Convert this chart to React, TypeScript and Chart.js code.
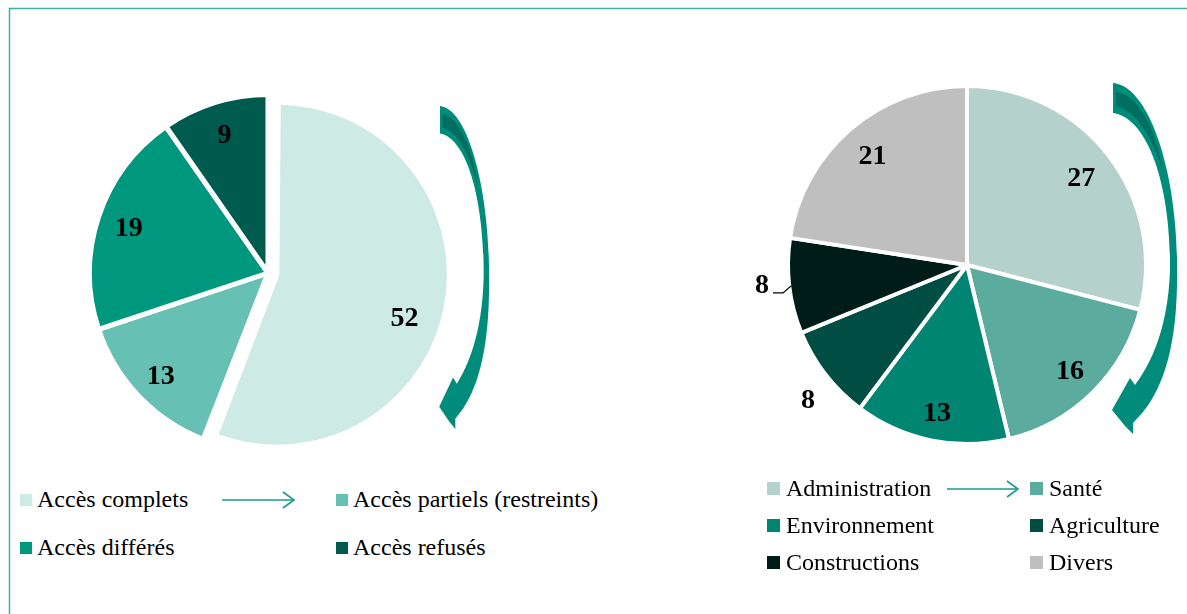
import React, { useEffect, useRef } from "react";
import { Chart, registerables } from "chart.js";

Chart.register(...registerables);

// ---------- data ----------
const accessCategories = ["Accès complets", "Accès partiels (restreints)", "Accès différés", "Accès refusés"];
const accessValues = [52, 13, 19, 9];
const accessColors = ["#cdeae5", "#66c0b4", "#00977f", "#005b4f"];
const accessExplode = [36, 0, 0, 0]; // Chart.js translates an arc by offset / 4

const sectorCategories = ["Administration", "Santé", "Environnement", "Agriculture", "Constructions", "Divers"];
const sectorValues = [27, 16, 13, 8, 8, 21];
const sectorColors = ["#b5d1cc", "#5bab9f", "#008573", "#004d43", "#001c18", "#bfbfbf"];

// ---------- label placement (fraction of visible radius, angle shift in degrees) ----------
const accessLabelFrac = [0.79, 0.84, 0.834, 0.827];
const accessLabelShift = [7.6, 0, 0, 0];
const sectorLabelFrac = [0.816, 0.83, 0.845, 1.175, 1.163, 0.82];
const sectorLabelShift = [0, 0, 0, -2.4, 1.5, 0];
const sectorLeader = [false, false, false, false, true, false];

const FONT = '"Liberation Serif", "Times New Roman", serif';

type LabelCfg = {
  frac: number[];
  shift: number[];
  leader?: boolean[];
  border: number;
  shrink?: number[];
};

function makeLabelPlugin(cfg: LabelCfg) {
  return {
    id: "sliceLabels",
    beforeDatasetsDraw(chart: any) {
      if (!cfg.shrink) return;
      const meta = chart.getDatasetMeta(0);
      meta.data.forEach((arc: any, i: number) => {
        if (cfg.shrink![i]) arc.outerRadius = arc.outerRadius - cfg.shrink![i];
      });
    },
    afterDatasetsDraw(chart: any) {
      const ctx = chart.ctx;
      const meta = chart.getDatasetMeta(0);
      const data = chart.data.datasets[0].data;
      ctx.save();
      ctx.font = "bold 28px " + FONT;
      ctx.fillStyle = "#000";
      ctx.textAlign = "center";
      ctx.textBaseline = "middle";
      meta.data.forEach((arc: any, i: number) => {
        const mid = (arc.startAngle + arc.endAngle) / 2;
        const off = (arc.options.offset || 0) / 4;
        const circ = arc.endAngle - arc.startAngle;
        const fix = 1 - Math.sin(Math.min(Math.PI, circ));
        const cx = arc.x + Math.cos(mid) * off;
        const cy = arc.y + Math.sin(mid) * off;
        const R = arc.outerRadius + off * fix - cfg.border / 2;
        const a = mid + ((cfg.shift[i] || 0) * Math.PI) / 180;
        const r = R * cfg.frac[i];
        const lx = cx + Math.cos(a) * r;
        const ly = cy + Math.sin(a) * r;
        ctx.fillText(String(data[i]), lx, ly + 2);
        if (cfg.leader && cfg.leader[i]) {
          const ex = cx + Math.cos(mid) * R;
          const ey = cy + Math.sin(mid) * R;
          ctx.beginPath();
          ctx.strokeStyle = "#000";
          ctx.lineWidth = 1.3;
          ctx.moveTo(lx + 11, ly + 9);
          ctx.lineTo(lx + 21, ly + 9);
          ctx.lineTo(ex, ey);
          ctx.stroke();
        }
      });
      ctx.restore();
    },
  };
}

function PieCanvas(props: {
  labels: string[];
  values: number[];
  colors: string[];
  offsets: number[];
  border: number;
  radius: number;
  size: number;
  left: number;
  top: number;
  cfg: LabelCfg;
}) {
  const ref = useRef<HTMLCanvasElement | null>(null);
  useEffect(() => {
    if (!ref.current) return;
    const chart = new Chart(ref.current, {
      type: "pie",
      data: {
        labels: props.labels,
        datasets: [
          {
            data: props.values,
            backgroundColor: props.colors,
            borderColor: "#ffffff",
            borderWidth: props.border,
            offset: props.offsets,
          },
        ],
      },
      options: {
        responsive: false,
        animation: false,
        radius: props.radius,
        layout: { padding: 0 },
        events: [],
        plugins: { legend: { display: false }, tooltip: { enabled: false } },
      } as any,
      plugins: [makeLabelPlugin(props.cfg)],
    });
    return () => chart.destroy();
  }, []);
  return (
    <canvas
      ref={ref}
      width={props.size}
      height={props.size}
      style={{ position: "absolute", left: props.left, top: props.top, width: props.size, height: props.size }}
    />
  );
}

type LegendPos = { x: number; baseline: number };

function Legend(props: { labels: string[]; colors: string[]; pos: LegendPos[]; gap: number; box: number }) {
  return (
    <>
      {props.labels.map((lab, i) => {
        const p = props.pos[i];
        return (
          <React.Fragment key={lab}>
            <div
              style={{
                position: "absolute",
                left: p.x,
                top: p.baseline - 1.5 - props.box,
                width: props.box,
                height: props.box,
                background: props.colors[i],
              }}
            />
            <div
              style={{
                position: "absolute",
                left: p.x + props.box + props.gap,
                top: p.baseline - 20,
                fontFamily: FONT,
                fontSize: 24,
                lineHeight: "24px",
                color: "#000",
                whiteSpace: "nowrap",
              }}
            >
              {lab}
            </div>
          </React.Fragment>
        );
      })}
    </>
  );
}

const accessLegendPos: LegendPos[] = [
  { x: 20, baseline: 507 },
  { x: 336, baseline: 507 },
  { x: 20, baseline: 555 },
  { x: 336, baseline: 555 },
];
const sectorLegendPos: LegendPos[] = [
  { x: 767, baseline: 496 },
  { x: 1030, baseline: 496 },
  { x: 767, baseline: 533 },
  { x: 1030, baseline: 533 },
  { x: 767, baseline: 570 },
  { x: 1030, baseline: 570 },
];

const ARROW_PATH =
  "M 1113 83 C 1150 86 1178 175 1177 270 C 1178 340 1165 385 1143 412 L 1133 423 L 1133 434 L 1125 426 L 1112 410 L 1130 378 L 1135 385 C 1150 365 1168 330 1170 270 C 1171 185 1148 118 1113 113 Z";
const ARROW_HIGHLIGHT = "M 1116 92 C 1138 95 1155 126 1163 172 C 1152 136 1137 112 1116 106 Z";

function CurvedArrow(props: { transform?: string }) {
  return (
    <g transform={props.transform}>
      <path d={ARROW_PATH} fill="#008c7b" />
      <path d={ARROW_HIGHLIGHT} fill="#006f61" />
    </g>
  );
}

export default function App() {
  return (
    <div
      style={{
        position: "absolute",
        left: 0,
        top: 0,
        width: 1187,
        height: 614,
        background: "#ffffff",
        overflow: "hidden",
      }}
    >
      <PieCanvas
        labels={accessCategories}
        values={accessValues}
        colors={accessColors}
        offsets={accessExplode}
        border={5}
        radius={178.5}
        size={400}
        left={68}
        top={73}
        cfg={{ frac: accessLabelFrac, shift: accessLabelShift, border: 5, shrink: [15, 0, 0, 0] }}
      />
      <PieCanvas
        labels={sectorCategories}
        values={sectorValues}
        colors={sectorColors}
        offsets={sectorValues.map(() => 0)}
        border={4}
        radius={179}
        size={460}
        left={737}
        top={35}
        cfg={{ frac: sectorLabelFrac, shift: sectorLabelShift, leader: sectorLeader, border: 4 }}
      />
      <Legend labels={accessCategories} colors={accessColors} pos={accessLegendPos} gap={5} box={12} />
      <Legend labels={sectorCategories} colors={sectorColors} pos={sectorLegendPos} gap={6} box={13} />
      <svg
        width={1187}
        height={614}
        style={{ position: "absolute", left: 0, top: 0, pointerEvents: "none" }}
      >
        <line x1={9} y1={8.5} x2={1187} y2={8.5} stroke="#3fb0a3" strokeWidth={1.5} />
        <line x1={9.5} y1={8} x2={9.5} y2={614} stroke="#3fb0a3" strokeWidth={1.5} />
        <CurvedArrow />
        <CurvedArrow transform="translate(440 106) scale(0.766 0.92) translate(-1113 -83)" />
        <g stroke="#1b9c8a" strokeWidth={1.6} fill="none">
          <line x1={222} y1={500} x2={294} y2={500} />
          <polyline points="283,492 294,500 283,508" />
          <line x1={947} y1={489} x2={1018} y2={489} />
          <polyline points="1007,481 1018,489 1007,497" />
        </g>
      </svg>
    </div>
  );
}
